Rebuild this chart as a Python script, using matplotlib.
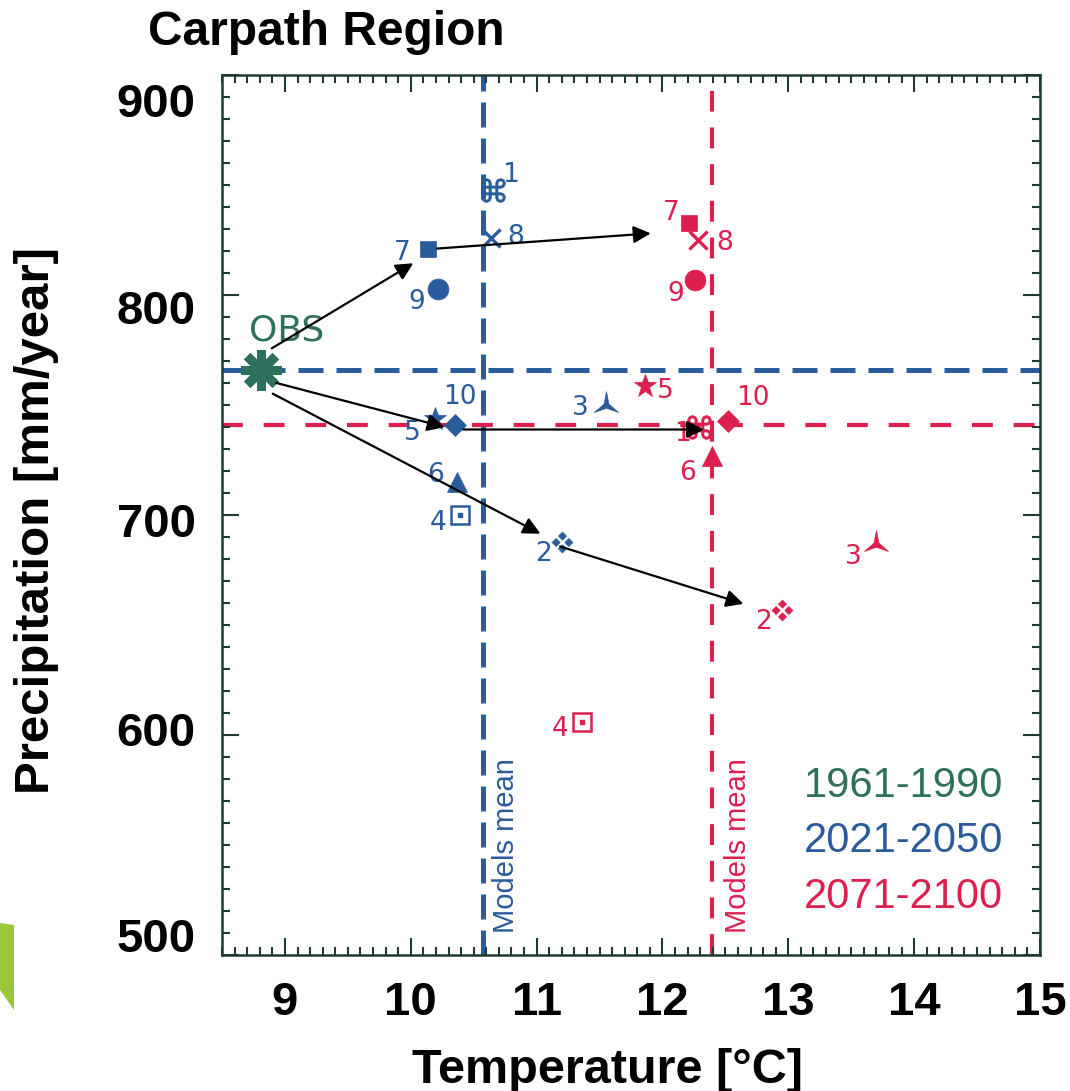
import matplotlib
matplotlib.use("Agg")
import numpy as np
import matplotlib.pyplot as plt
from matplotlib.path import Path
from matplotlib.patches import Polygon
from matplotlib.ticker import MultipleLocator
import matplotlib.transforms as mtransforms

# observed climate 1961-1990
obs_temp = 8.81
obs_prec = 766

# model numbers and results for the two scenario periods
models = ['1', '2', '3', '4', '5', '6', '7', '8', '9', '10']
temp_2021 = [10.65, 11.20, 11.55, 10.39, 10.19, 10.37, 10.14, 10.64, 10.22, 10.35]
prec_2021 = [848, 688, 750, 700, 744, 715, 821, 826, 803, 741]
temp_2071 = [12.29, 12.95, 13.70, 11.36, 11.86, 12.39, 12.21, 12.28, 12.26, 12.52]
prec_2071 = [740, 657, 687, 606, 759, 727, 833, 825, 807, 743]

# models mean
mean_temp_2021, mean_prec_2021 = 10.57, 766
mean_temp_2071, mean_prec_2071 = 12.39, 741

# arrows: start -> end
arrow_t0 = [8.895, 10.21, 8.93, 10.418, 8.903, 11.187]
arrow_p0 = [775.9, 821.3, 760.2, 739.0, 755.3, 685.8]
arrow_t1 = [10.02, 11.907, 10.27, 12.33, 11.03, 12.644]
arrow_p1 = [814.6, 828.2, 740.1, 739.0, 691.6, 659.7]

periods = ['1961-1990', '2021-2050', '2071-2100']
xticks = [9, 10, 11, 12, 13, 14, 15]
yticks = [500, 600, 700, 800, 900]

# styling
green = '#2f6f5e'
blue = '#2a5b9c'
red = '#dc1f4e'
frame = '#1f3b34'


def four_diamonds():
    verts, codes = [], []
    r = 0.38
    for cx, cy in [(0, 0.6), (0.6, 0), (0, -0.6), (-0.6, 0)]:
        verts += [(cx, cy + r), (cx + r, cy), (cx, cy - r), (cx - r, cy), (cx, cy + r)]
        codes += [Path.MOVETO, Path.LINETO, Path.LINETO, Path.LINETO, Path.CLOSEPOLY]
    return Path(verts, codes)


def three_arms():
    # thin three pointed star, one arm up and two legs down
    verts = []
    for k in range(3):
        a_out = np.radians(90 + 120 * k)
        a_in = np.radians(150 + 120 * k)
        verts.append((np.cos(a_out), np.sin(a_out)))
        verts.append((0.2 * np.cos(a_in), 0.2 * np.sin(a_in)))
    verts.append(verts[0])
    codes = [Path.MOVETO] + [Path.LINETO] * 5 + [Path.CLOSEPOLY]
    return Path(verts, codes)


markers = ['$\u2318$', four_diamonds(), three_arms(), 's', '*', '^', 's', 'x', 'o', 'D']
msizes = [17, 15, 20, 13, 17, 14, 12, 13, 15, 11]

# label offsets in pixels (x right, y up)
off_2021 = [(18, 15), (-18, -12), (-25, -3), (-22, -8), (-22, -14),
            (-22, 7), (-26, -4), (24, 1), (-22, -13), (5, 28)]
off_2071 = [(-16, -7), (-19, -12), (-23, -13), (-22, -7), (20, -5),
            (-24, -17), (-18, 10), (27, -3), (-19, -14), (25, 23)]

fig = plt.figure(figsize=(10.7, 10.91), dpi=100)
ax = fig.add_axes([222 / 1070, 1 - 955 / 1091, 818 / 1070, 879.5 / 1091])

# mean lines
ax.axvline(mean_temp_2021, color=blue, lw=3.6, ls=(0, (5, 2.2)), zorder=1)
ax.axhline(mean_prec_2021, color=blue, lw=3.6, ls=(0, (5, 2.6)), zorder=1)
ax.axvline(mean_temp_2071, color=red, lw=3.0, ls=(0, (5, 3.8)), zorder=1)
ax.axhline(mean_prec_2071, color=red, lw=3.0, ls=(0, (5, 5)), zorder=1)


def draw_period(temps, precs, color, offsets):
    for i in range(len(models)):
        t, p = temps[i], precs[i]
        m = markers[i]
        if i == 3:
            ax.plot(t, p, marker='s', ms=msizes[i], mfc='white', mec=color, mew=1.8, ls='none', zorder=4)
            ax.plot(t, p, marker='s', ms=3.5, color=color, ls='none', zorder=4)
        elif m == 'x':
            ax.plot(t, p, marker='x', ms=msizes[i], mec=color, mew=2.4, ls='none', zorder=4)
        else:
            ax.plot(t, p, marker=m, ms=msizes[i], color=color, mec=color, mew=0.5, ls='none', zorder=4)
        ax.annotate(models[i], (t, p), xytext=offsets[i], textcoords='offset pixels',
                    ha='center', va='center', fontsize=19, color=color, zorder=5)


draw_period(temp_2021, prec_2021, blue, off_2021)
draw_period(temp_2071, prec_2071, red, off_2071)

# observations
ax.plot(obs_temp, obs_prec, marker=(8, 2, 0), ms=29, mew=6.5, color=green, mec=green, zorder=5)
ax.annotate('OBS', (obs_temp, obs_prec), xytext=(26, 40), textcoords='offset pixels',
            ha='center', va='center', fontsize=26, color=green)

for t0, p0, t1, p1 in zip(arrow_t0, arrow_p0, arrow_t1, arrow_p1):
    ax.annotate('', xy=(t1, p1), xytext=(t0, p0),
                arrowprops=dict(arrowstyle='-|>', color='black', lw=1.6,
                                mutation_scale=26, shrinkA=0, shrinkB=0), zorder=6)

ax.set_xlim(8.5, 15)
ax.set_ylim(500, 900)
ax.set_xticks(xticks)
ax.set_yticks(yticks)
ax.xaxis.set_minor_locator(MultipleLocator(0.1))
ax.yaxis.set_minor_locator(MultipleLocator(10))
ax.tick_params(which='both', direction='in', top=True, right=True, color=frame, width=1.5)
ax.tick_params(which='major', length=12)
ax.tick_params(which='minor', length=6)
ax.tick_params(axis='x', pad=19)
ax.tick_params(axis='y', pad=19)
for s in ax.spines.values():
    s.set_color(frame)
    s.set_linewidth(1.8)

ax.set_xticklabels([str(v) for v in xticks], fontsize=34, fontweight='bold',
                   family=['Liberation Sans Narrow', 'Liberation Sans'])
ax.set_yticklabels([str(v) for v in yticks], fontsize=34, fontweight='bold',
                   family='Liberation Sans')
# tick labels in the reference sit slightly off their ticks
ylab_shift = [-20, -6, 5, 12, 25]
for lab, dy in zip(ax.get_yticklabels(), ylab_shift):
    lab.set_transform(lab.get_transform() + mtransforms.ScaledTranslation(0, -dy / 100, fig.dpi_scale_trans))

# titles
fig.text(148 / 1070, 1 - 45 / 1091, 'Carpath Region', fontsize=34.5, fontweight='bold',
         family='Liberation Sans', ha='left', va='baseline')
fig.text(608 / 1070, 1 - 1083 / 1091, 'Temperature [°C]', fontsize=35, fontweight='bold',
         family='Liberation Sans', ha='center', va='baseline')
fig.text(37 / 1070, 1 - 520 / 1091, 'Precipitation [mm/year]', fontsize=35.5, fontweight='bold',
         family='Liberation Sans', rotation=90, ha='center', va='center')

# period legend
for name, col, base in zip(periods, [green, blue, red], [797, 852, 908]):
    fig.text(1003 / 1070, 1 - base / 1091, name, fontsize=30, color=col,
             family='Liberation Sans', ha='right', va='baseline')

fig.text(506 / 1070, 1 - 933 / 1091, 'Models mean', fontsize=21, color=blue,
         family='Liberation Sans', rotation=90, ha='center', va='bottom')
fig.text(738 / 1070, 1 - 933 / 1091, 'Models mean', fontsize=21, color=red,
         family='Liberation Sans', rotation=90, ha='center', va='bottom')

# green leaf fragment at the left edge
leaf = Polygon([(0, 1 - 923 / 1091), (14 / 1070, 1 - 925 / 1091),
                (14 / 1070, 1 - 1010 / 1091), (0, 1 - 990 / 1091)],
               closed=True, transform=fig.transFigure, color='#9bc83a', lw=0)
fig.patches.append(leaf)

fig.savefig('out.png', dpi=100)
